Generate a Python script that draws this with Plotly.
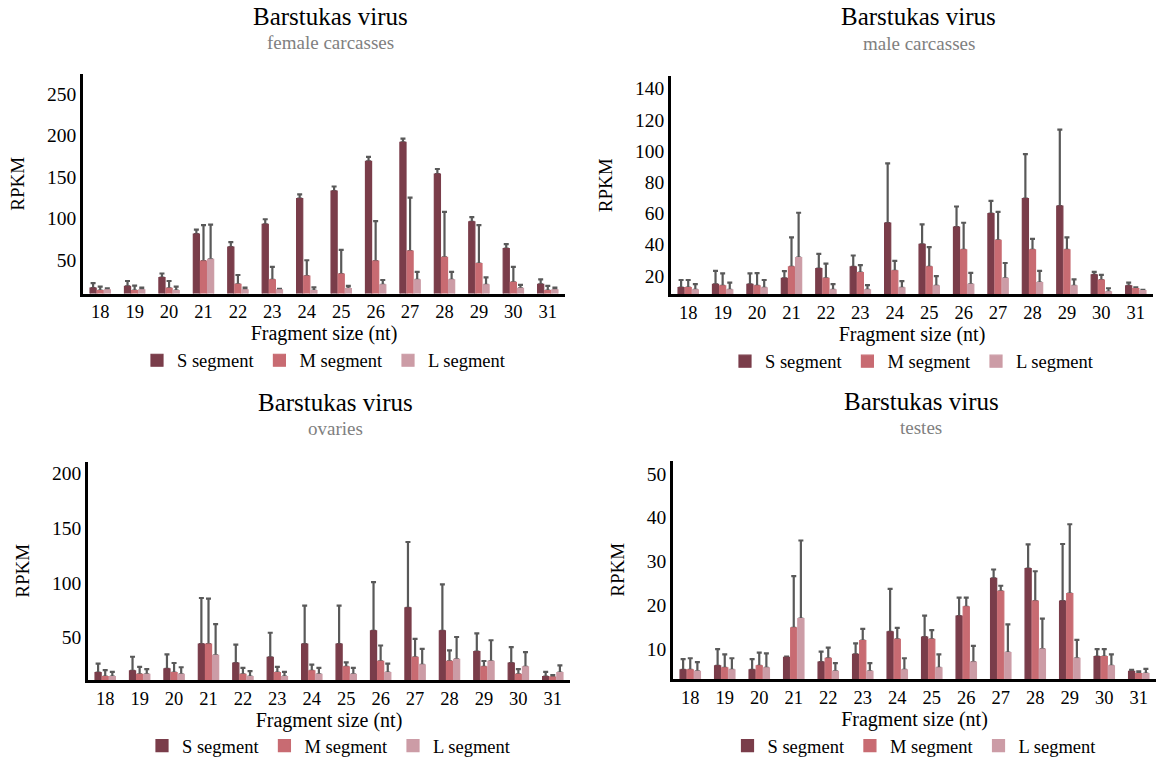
import plotly.graph_objects as go

sizes = ["18", "19", "20", "21", "22", "23", "24", "25", "26", "27", "28", "29", "30", "31"]
segments = ["S segment", "M segment", "L segment"]

# female carcasses
fem_S = [16, 18, 28.6, 81, 65.5, 93, 124, 133, 168.7, 191.7, 153.6, 96, 63.5, 20.6]
fem_S_err = [6, 6.6, 5, 5.5, 6, 6, 5, 5.5, 5.5, 4.5, 6, 5.6, 5.5, 6]
fem_M = [13, 13, 15.8, 48.5, 20.6, 26, 30.6, 33, 48.5, 60.7, 53, 45.6, 23, 13]
fem_M_err = [4.9, 6, 8.8, 43.5, 11.2, 15.7, 19, 29, 48.3, 64.3, 55, 46.4, 18.7, 5.7]
fem_L = [14, 14, 13, 50.8, 14, 14, 13, 15.5, 20, 26, 26, 20, 15.8, 14]
fem_L_err = [1.8, 2.6, 4.9, 41.7, 2.6, 1, 4, 3.2, 5.8, 9.7, 9.7, 9, 4.2, 2.6]

# male carcasses
mal_S = [12.4, 14.5, 14.5, 18.3, 24.6, 25.7, 53.7, 40.2, 51.2, 59.8, 69.5, 64.6, 20.6, 13.5]
mal_S_err = [4.9, 8.7, 7, 4.7, 9.4, 7.3, 38.3, 12.8, 13.2, 8.2, 28.5, 49.1, 1.9, 2.1]
mal_M = [12.4, 13.5, 13.5, 25.7, 18.3, 22, 23.2, 25.7, 36.6, 42.7, 36.6, 36.6, 17.3, 11.8]
mal_M_err = [4.9, 8, 8.2, 18.9, 9.5, 4.8, 6.3, 12.6, 17.4, 18.3, 7, 8, 3.3, 0.8]
mal_L = [11, 11, 12.2, 31.6, 11, 11, 12.2, 13.5, 14.5, 18.3, 15.6, 13.5, 9.7, 10.5]
mal_L_err = [3.7, 4.6, 5.1, 28.8, 3.7, 3, 4.4, 6.3, 7.4, 9.9, 7.6, 4.2, 2.3, 0.5]

# ovaries
ova_S = [17.8, 19.3, 21.1, 43.7, 26.5, 31.6, 43.7, 43.7, 56, 77, 56, 37, 26.5, 14.1]
ova_S_err = [8.1, 12.9, 13.2, 42.3, 16.9, 22.6, 35.3, 35.3, 44.6, 60.3, 42.5, 16.6, 14.5, 4.3]
ova_M = [14.1, 16, 17.8, 43.7, 16, 17.8, 19.3, 22.9, 28, 31.6, 28, 22.9, 16, 13.6]
ova_M_err = [5.8, 6.9, 8.7, 41.8, 6, 5.1, 5.7, 4.2, 14.5, 16.9, 10, 5.4, 4.8, 1.8]
ova_L = [14.1, 16, 16, 33.5, 14.1, 14.1, 16, 16, 17.8, 24.7, 29.8, 28, 22.9, 17.8]
ova_L_err = [4.3, 4.8, 6.6, 28.5, 4.9, 4.3, 6, 6, 8.1, 14.8, 20.5, 19.3, 13.6, 6.6]

# testes
tes_S = [5.35, 6.3, 5.35, 8.2, 7.1, 8.9, 14, 12.8, 17.6, 26.2, 28.4, 21, 8.4, 5]
tes_S_err = [2.45, 3.8, 2.45, 0.2, 2.4, 2.5, 9.8, 4.9, 4.2, 2, 5.5, 13, 1.7, 0.35]
tes_M = [5.35, 5.8, 6.3, 14.9, 8, 12, 12.3, 12.3, 19.7, 23.2, 21, 22.7, 8.4, 4.5]
tes_M_err = [2.65, 3.1, 3, 11.8, 2.4, 2.7, 2.6, 2.1, 2.1, 1.3, 6.8, 15.8, 1.7, 0.5]
tes_L = [5, 5.35, 5.8, 17, 5, 5, 5.35, 5.8, 7.1, 9.3, 10.1, 8, 6.3, 4.5]
tes_L_err = [2.1, 2.65, 3.3, 17.8, 1.9, 1.9, 2.65, 3.1, 3.7, 6.4, 6.9, 4.2, 2.6, 1.1]

main_title = "Barstukas virus"
subtitles = ["female carcasses", "male carcasses", "ovaries", "testes"]
y_ticks = [[50, 100, 150, 200, 250], [20, 40, 60, 80, 100, 120, 140],
           [50, 100, 150, 200], [10, 20, 30, 40, 50]]
y_ranges = [[9.5, 274], [8, 148], [11, 211], [3.3, 53]]

panels = [
    [(fem_S, fem_S_err), (fem_M, fem_M_err), (fem_L, fem_L_err)],
    [(mal_S, mal_S_err), (mal_M, mal_M_err), (mal_L, mal_L_err)],
    [(ova_S, ova_S_err), (ova_M, ova_M_err), (ova_L, ova_L_err)],
    [(tes_S, tes_S_err), (tes_M, tes_M_err), (tes_L, tes_L_err)],
]

colors = ["#7a3d4a", "#c86b72", "#cc9ca6"]
W, H = 1157, 765
FONT = "Liberation Serif, Times New Roman, serif"

# pixel boxes: (x0, x1, ytop, ybottom)
boxes = [(83, 565, 75, 297), (671, 1153, 77, 298), (88, 570, 467, 688), (673, 1156, 466, 687)]
title_y = [(17, 43), (17, 44), (407, 434), (406, 433)]
legend_y = [365, 366, 755, 755]

fig = go.Figure()
for p in range(4):
    ax = "" if p == 0 else str(p + 1)
    leg = "legend" if p == 0 else "legend" + str(p + 1)
    # error-bar carriers first (so the coloured bars hide the bottom cap)
    for s in range(3):
        vals, errs = panels[p][s]
        fig.add_trace(go.Bar(
            x=sizes, y=vals, name=segments[s], showlegend=False,
            offsetgroup=f"g{p}{s}",
            marker=dict(color="rgba(0,0,0,0)", line=dict(width=0)),
            error_y=dict(type="data", array=errs, arrayminus=[0] * len(errs), symmetric=False,
                         color="#595959", thickness=2.2, width=2.5),
            xaxis="x" + ax, yaxis="y" + ax, legend=leg, hoverinfo="skip",
        ))
    for s in range(3):
        vals, errs = panels[p][s]
        fig.add_trace(go.Bar(
            x=sizes, y=vals, name=segments[s], offsetgroup=f"g{p}{s}",
            marker=dict(color=colors[s], line=dict(width=1.2, color=colors[s])),
            xaxis="x" + ax, yaxis="y" + ax, legend=leg,
        ))

layout = dict(
    width=W, height=H, margin=dict(l=0, r=0, t=0, b=0),
    paper_bgcolor="white", plot_bgcolor="white",
    font=dict(family=FONT, size=18, color="#000000"),
    barmode="group", bargap=0.38, bargroupgap=0.14,
    showlegend=True,
)
annotations = []
for p in range(4):
    x0, x1, yt, yb = boxes[p]
    ax = "" if p == 0 else str(p + 1)
    layout["xaxis" + ax] = dict(
        domain=[x0 / W, x1 / W], anchor="y" + ax, type="category",
        showline=True, linecolor="#000000", linewidth=2.5, showgrid=False,
        ticks="", tickfont=dict(size=18.5, family=FONT),
        title=dict(text="Fragment size (nt)", font=dict(size=20, family=FONT), standoff=1),
        fixedrange=True,
    )
    layout["yaxis" + ax] = dict(
        domain=[1 - yb / H, 1 - yt / H], anchor="x" + ax,
        range=y_ranges[p], tickvals=y_ticks[p],
        showline=True, linecolor="#000000", linewidth=2.5, showgrid=False, zeroline=False,
        ticks="", tickfont=dict(size=19.5, family=FONT),
        title=dict(text="RPKM", font=dict(size=19, family=FONT), standoff=18),
        fixedrange=True,
    )
    cx = (x0 + x1) / 2 / W
    annotations.append(dict(x=cx + 0.006, y=1 - title_y[p][0] / H, xref="paper", yref="paper",
                            text=main_title, showarrow=False, xanchor="center", yanchor="middle",
                            font=dict(size=25, family=FONT, color="#000000")))
    annotations.append(dict(x=cx + 0.006, y=1 - title_y[p][1] / H, xref="paper", yref="paper",
                            text=subtitles[p], showarrow=False,
                            xanchor="center", yanchor="middle",
                            font=dict(size=19, family=FONT, color="#808080")))
    leg = "legend" if p == 0 else "legend" + str(p + 1)
    layout[leg] = dict(
        orientation="h", x=cx, y=1 - legend_y[p] / H, xanchor="center", yanchor="middle",
        font=dict(size=18.5, family=FONT, color="#000000"), bgcolor="rgba(0,0,0,0)",
        itemwidth=30, tracegroupgap=0, itemclick=False, itemdoubleclick=False,
    )
layout["annotations"] = annotations
fig.update_layout(**layout)
fig.write_html("out.html")
